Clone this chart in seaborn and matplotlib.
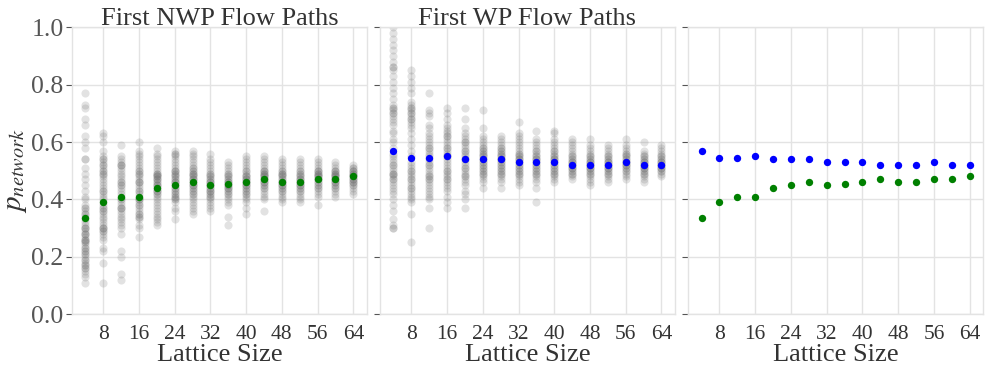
import numpy as np
import pandas as pd
import matplotlib
matplotlib.use("Agg")
import matplotlib.pyplot as plt
import seaborn as sns

# Lattice sizes used in the simulations
lattice_sizes = [4, 8, 12, 16, 20, 24, 28, 32, 36, 40, 44, 48, 52, 56, 60, 64]
x_ticks = [8, 16, 24, 32, 40, 48, 56, 64]
y_ticks = [0.0, 0.2, 0.4, 0.6, 0.8, 1.0]

# Individual runs: p_network at the first non-wetting-phase flow path
nwp_runs = [
    [0.77, 0.73, 0.72, 0.68, 0.66, 0.62, 0.60, 0.58, 0.54, 0.54, 0.51, 0.49, 0.47, 0.45, 0.43, 0.41,
     0.40, 0.38, 0.37, 0.37, 0.36, 0.35, 0.35, 0.34, 0.33, 0.32, 0.31, 0.30, 0.30, 0.29, 0.28, 0.28,
     0.27, 0.26, 0.26, 0.25, 0.24, 0.23, 0.23, 0.22, 0.21, 0.20, 0.19, 0.18, 0.17, 0.16, 0.15, 0.14,
     0.13, 0.11, 0.30, 0.28, 0.26, 0.25, 0.22, 0.21, 0.19, 0.17, 0.16],
    [0.63, 0.62, 0.60, 0.57, 0.55, 0.54, 0.54, 0.53, 0.52, 0.51, 0.50, 0.49, 0.49, 0.48, 0.47, 0.46,
     0.45, 0.44, 0.43, 0.42, 0.41, 0.40, 0.39, 0.38, 0.37, 0.37, 0.36, 0.35, 0.34, 0.33, 0.32, 0.31,
     0.30, 0.30, 0.29, 0.29, 0.28, 0.27, 0.26, 0.23, 0.22, 0.18, 0.11, 0.52, 0.50, 0.43, 0.36, 0.30],
    [0.59, 0.55, 0.54, 0.53, 0.52, 0.52, 0.51, 0.50, 0.49, 0.48, 0.47, 0.46, 0.46, 0.45, 0.44, 0.43,
     0.42, 0.41, 0.40, 0.39, 0.38, 0.37, 0.37, 0.36, 0.35, 0.34, 0.33, 0.32, 0.31, 0.30, 0.28, 0.22,
     0.20, 0.14, 0.12, 0.52, 0.45, 0.40, 0.37],
    [0.60, 0.57, 0.56, 0.55, 0.54, 0.53, 0.52, 0.51, 0.50, 0.50, 0.49, 0.48, 0.47, 0.46, 0.46, 0.45,
     0.44, 0.43, 0.42, 0.41, 0.40, 0.40, 0.39, 0.38, 0.37, 0.36, 0.35, 0.34, 0.34, 0.33, 0.31, 0.30,
     0.27, 0.49, 0.46, 0.43, 0.40, 0.38, 0.35],
    [0.58, 0.56, 0.55, 0.54, 0.53, 0.52, 0.51, 0.50, 0.49, 0.49, 0.48, 0.48, 0.47, 0.47, 0.46, 0.45,
     0.45, 0.44, 0.43, 0.43, 0.42, 0.41, 0.40, 0.39, 0.38, 0.37, 0.36, 0.35, 0.34, 0.33, 0.32, 0.31,
     0.49, 0.48, 0.47, 0.46, 0.45, 0.44, 0.43, 0.42],
    [0.57, 0.56, 0.56, 0.55, 0.54, 0.53, 0.52, 0.51, 0.50, 0.50, 0.49, 0.48, 0.48, 0.47, 0.46, 0.46,
     0.45, 0.44, 0.43, 0.43, 0.42, 0.41, 0.40, 0.40, 0.39, 0.37, 0.36, 0.33, 0.50, 0.49, 0.47, 0.46,
     0.45, 0.44, 0.42, 0.41],
    [0.57, 0.56, 0.55, 0.54, 0.53, 0.52, 0.51, 0.51, 0.50, 0.49, 0.49, 0.48, 0.47, 0.47, 0.46, 0.45,
     0.45, 0.44, 0.43, 0.43, 0.42, 0.41, 0.40, 0.39, 0.38, 0.37, 0.36, 0.35, 0.50, 0.49, 0.48, 0.47,
     0.46, 0.45, 0.44, 0.42],
    [0.56, 0.54, 0.53, 0.52, 0.51, 0.50, 0.49, 0.48, 0.48, 0.47, 0.46, 0.46, 0.45, 0.45, 0.44, 0.43,
     0.43, 0.42, 0.41, 0.40, 0.39, 0.38, 0.37, 0.36, 0.49, 0.47, 0.46, 0.45, 0.44, 0.43, 0.42, 0.41],
    [0.53, 0.52, 0.51, 0.50, 0.49, 0.48, 0.48, 0.47, 0.46, 0.46, 0.45, 0.45, 0.44, 0.44, 0.43, 0.42,
     0.41, 0.40, 0.39, 0.38, 0.34, 0.31, 0.49, 0.47, 0.46, 0.45, 0.44, 0.43, 0.42],
    [0.55, 0.54, 0.53, 0.52, 0.51, 0.50, 0.49, 0.48, 0.48, 0.47, 0.47, 0.46, 0.46, 0.45, 0.45, 0.44,
     0.43, 0.42, 0.41, 0.40, 0.39, 0.37, 0.35, 0.50, 0.48, 0.47, 0.46, 0.45, 0.44, 0.43, 0.42],
    [0.55, 0.54, 0.53, 0.52, 0.51, 0.50, 0.50, 0.49, 0.49, 0.48, 0.48, 0.47, 0.47, 0.46, 0.46, 0.45,
     0.44, 0.43, 0.42, 0.41, 0.40, 0.36, 0.50, 0.49, 0.48, 0.47, 0.46, 0.45, 0.44],
    [0.54, 0.53, 0.52, 0.51, 0.50, 0.49, 0.49, 0.48, 0.48, 0.47, 0.46, 0.46, 0.45, 0.45, 0.44, 0.43,
     0.42, 0.41, 0.40, 0.39, 0.50, 0.49, 0.47, 0.46, 0.45, 0.44, 0.43],
    [0.54, 0.53, 0.52, 0.51, 0.50, 0.49, 0.49, 0.48, 0.47, 0.47, 0.46, 0.46, 0.45, 0.45, 0.44, 0.43,
     0.42, 0.41, 0.40, 0.39, 0.50, 0.48, 0.47, 0.46, 0.45, 0.44, 0.43],
    [0.54, 0.53, 0.52, 0.51, 0.50, 0.50, 0.49, 0.49, 0.48, 0.48, 0.47, 0.47, 0.46, 0.45, 0.44, 0.43,
     0.42, 0.41, 0.38, 0.50, 0.49, 0.48, 0.47, 0.46, 0.45, 0.44],
    [0.53, 0.52, 0.51, 0.50, 0.50, 0.49, 0.49, 0.48, 0.48, 0.47, 0.47, 0.46, 0.46, 0.45, 0.44, 0.43,
     0.42, 0.41, 0.50, 0.49, 0.48, 0.47, 0.46, 0.45, 0.44],
    [0.52, 0.51, 0.51, 0.50, 0.50, 0.49, 0.49, 0.48, 0.48, 0.47, 0.47, 0.46, 0.46, 0.45, 0.44, 0.43,
     0.42, 0.50, 0.49, 0.48, 0.47, 0.46, 0.45],
]

# Individual runs: p_network at the first wetting-phase flow path
wp_runs = [
    [1.00, 0.98, 0.96, 0.94, 0.92, 0.90, 0.88, 0.86, 0.85, 0.83, 0.81, 0.79, 0.77, 0.75, 0.73, 0.72,
     0.71, 0.70, 0.69, 0.68, 0.67, 0.66, 0.64, 0.63, 0.61, 0.60, 0.58, 0.56, 0.55, 0.54, 0.53, 0.52,
     0.51, 0.50, 0.49, 0.49, 0.48, 0.47, 0.46, 0.45, 0.44, 0.43, 0.42, 0.40, 0.38, 0.36, 0.33, 0.31,
     0.30, 0.86, 0.72, 0.70, 0.52, 0.49, 0.47, 0.30],
    [0.85, 0.83, 0.81, 0.79, 0.77, 0.74, 0.73, 0.72, 0.71, 0.70, 0.69, 0.68, 0.67, 0.66, 0.65, 0.63,
     0.61, 0.59, 0.57, 0.55, 0.53, 0.52, 0.51, 0.50, 0.49, 0.48, 0.47, 0.46, 0.45, 0.44, 0.43, 0.42,
     0.41, 0.40, 0.39, 0.35, 0.25, 0.72, 0.70, 0.68, 0.50, 0.47, 0.44],
    [0.77, 0.71, 0.70, 0.69, 0.66, 0.65, 0.63, 0.62, 0.61, 0.60, 0.59, 0.58, 0.57, 0.56, 0.55, 0.54,
     0.53, 0.52, 0.51, 0.50, 0.49, 0.48, 0.47, 0.46, 0.45, 0.44, 0.43, 0.42, 0.41, 0.40, 0.37, 0.30,
     0.58, 0.52, 0.48, 0.47],
    [0.72, 0.70, 0.68, 0.66, 0.65, 0.64, 0.63, 0.62, 0.61, 0.60, 0.59, 0.58, 0.57, 0.56, 0.55, 0.54,
     0.53, 0.52, 0.51, 0.50, 0.49, 0.48, 0.47, 0.46, 0.45, 0.44, 0.43, 0.41, 0.39, 0.37, 0.62, 0.58,
     0.55, 0.50, 0.47],
    [0.72, 0.68, 0.65, 0.63, 0.62, 0.61, 0.60, 0.59, 0.58, 0.57, 0.56, 0.55, 0.54, 0.53, 0.52, 0.51,
     0.50, 0.49, 0.48, 0.47, 0.46, 0.45, 0.43, 0.42, 0.40, 0.37, 0.60, 0.57, 0.54, 0.51, 0.48],
    [0.71, 0.65, 0.62, 0.61, 0.60, 0.59, 0.58, 0.57, 0.57, 0.56, 0.55, 0.54, 0.53, 0.53, 0.52, 0.51,
     0.50, 0.49, 0.48, 0.47, 0.46, 0.44, 0.58, 0.56, 0.55, 0.54, 0.52, 0.51, 0.50, 0.49],
    [0.62, 0.61, 0.60, 0.59, 0.58, 0.57, 0.56, 0.56, 0.55, 0.54, 0.54, 0.53, 0.53, 0.52, 0.51, 0.50,
     0.49, 0.48, 0.47, 0.46, 0.44, 0.58, 0.57, 0.55, 0.54, 0.52, 0.51, 0.50, 0.49],
    [0.67, 0.63, 0.62, 0.61, 0.60, 0.59, 0.58, 0.57, 0.56, 0.55, 0.54, 0.54, 0.53, 0.53, 0.52, 0.51,
     0.50, 0.49, 0.48, 0.47, 0.46, 0.45, 0.56, 0.55, 0.54, 0.52, 0.51, 0.50, 0.49],
    [0.64, 0.61, 0.60, 0.59, 0.58, 0.57, 0.56, 0.55, 0.54, 0.54, 0.53, 0.53, 0.52, 0.51, 0.50, 0.49,
     0.48, 0.47, 0.46, 0.44, 0.39, 0.57, 0.55, 0.54, 0.52, 0.51, 0.50, 0.49],
    [0.64, 0.63, 0.61, 0.60, 0.59, 0.58, 0.57, 0.56, 0.55, 0.54, 0.54, 0.53, 0.53, 0.52, 0.51, 0.50,
     0.49, 0.48, 0.47, 0.46, 0.57, 0.55, 0.54, 0.52, 0.51, 0.50, 0.49],
    [0.61, 0.60, 0.59, 0.58, 0.57, 0.56, 0.55, 0.54, 0.53, 0.53, 0.52, 0.52, 0.51, 0.51, 0.50, 0.49,
     0.48, 0.47, 0.55, 0.54, 0.53, 0.52, 0.51, 0.50, 0.49],
    [0.61, 0.59, 0.58, 0.57, 0.56, 0.55, 0.54, 0.53, 0.53, 0.52, 0.52, 0.51, 0.51, 0.50, 0.49, 0.48,
     0.47, 0.46, 0.45, 0.55, 0.54, 0.53, 0.52, 0.51, 0.50, 0.49],
    [0.59, 0.58, 0.57, 0.56, 0.55, 0.54, 0.53, 0.53, 0.52, 0.52, 0.51, 0.51, 0.50, 0.49, 0.48, 0.47,
     0.46, 0.55, 0.54, 0.53, 0.52, 0.51, 0.50, 0.49],
    [0.61, 0.59, 0.58, 0.57, 0.56, 0.55, 0.54, 0.53, 0.53, 0.52, 0.52, 0.51, 0.50, 0.49, 0.48, 0.47,
     0.56, 0.55, 0.54, 0.53, 0.52, 0.51, 0.50],
    [0.60, 0.57, 0.56, 0.55, 0.54, 0.53, 0.53, 0.52, 0.52, 0.51, 0.51, 0.50, 0.49, 0.48, 0.47, 0.46,
     0.55, 0.54, 0.53, 0.52, 0.51, 0.50, 0.49],
    [0.59, 0.58, 0.57, 0.56, 0.55, 0.54, 0.53, 0.53, 0.52, 0.52, 0.51, 0.51, 0.50, 0.49, 0.48, 0.55,
     0.54, 0.53, 0.52, 0.51, 0.50],
]

# Mean p_network per lattice size
nwp_mean = [0.335, 0.39, 0.41, 0.41, 0.44, 0.45, 0.46, 0.45, 0.455, 0.46, 0.47, 0.46, 0.46, 0.47,
            0.47, 0.48]
wp_mean = [0.57, 0.545, 0.545, 0.55, 0.54, 0.54, 0.54, 0.53, 0.53, 0.53, 0.52, 0.52, 0.52, 0.53,
           0.52, 0.52]

titles = ["First NWP Flow Paths", "First WP Flow Paths", ""]
x_label = "Lattice Size"
y_label = r"$p_{network}$"


def runs_frame(runs):
    rows = [(size, v) for size, vals in zip(lattice_sizes, runs) for v in vals]
    return pd.DataFrame(rows, columns=["size", "p"])


nwp_df = runs_frame(nwp_runs)
wp_df = runs_frame(wp_runs)
mean_df = pd.DataFrame({"size": lattice_sizes, "nwp": nwp_mean, "wp": wp_mean})

sns.set_theme(style="whitegrid")
plt.rcParams.update({
    "font.family": ["Liberation Serif", "DejaVu Serif"],
    "mathtext.fontset": "stix",
    "axes.edgecolor": "#e3e3e3",
    "axes.linewidth": 1.0,
    "grid.color": "#e3e3e3",
    "grid.linewidth": 1.0,
    "text.color": "#333333",
    "axes.labelcolor": "#333333",
    "xtick.color": "#333333",
    "ytick.color": "#555555",
    "ytick.left": True,
    "ytick.major.size": 4,
    "ytick.major.width": 0.8,
    "xtick.major.size": 0,
})

fig, axes = plt.subplots(1, 3, figsize=(9.85, 3.74), dpi=100, sharey=True)
fig.subplots_adjust(left=0.073, right=0.998, bottom=0.16, top=0.927, wspace=0.045)

gray_kw = dict(color="#707070", alpha=0.2, s=34, linewidth=0, legend=False)
mean_kw = dict(s=28, linewidth=0, legend=False, zorder=5)

sns.scatterplot(data=nwp_df, x="size", y="p", ax=axes[0], **gray_kw)
sns.scatterplot(data=mean_df, x="size", y="nwp", ax=axes[0], color="#008000", **mean_kw)

sns.scatterplot(data=wp_df, x="size", y="p", ax=axes[1], **gray_kw)
sns.scatterplot(data=mean_df, x="size", y="wp", ax=axes[1], color="#0000ff", **mean_kw)

sns.scatterplot(data=mean_df, x="size", y="wp", ax=axes[2], color="#0000ff", **mean_kw)
sns.scatterplot(data=mean_df, x="size", y="nwp", ax=axes[2], color="#008000", **mean_kw)

for i, ax in enumerate(axes):
    ax.set_xlim(1, 67)
    ax.set_ylim(0, 1.0)
    ax.set_xticks(x_ticks)
    ax.set_yticks(y_ticks)
    ax.tick_params(axis="x", labelsize=15.5, pad=8)
    ax.tick_params(axis="y", labelsize=18.5, pad=2)
    ax.set_xlabel(x_label, fontsize=19, labelpad=0)
    ax.set_title(titles[i], fontsize=19, pad=2)
    if i == 0:
        ax.set_yticklabels([f"{t:.1f}" for t in y_ticks])
        ax.set_ylabel(y_label, fontsize=21, labelpad=2)
    else:
        ax.set_ylabel("")
        ax.tick_params(axis="y", labelleft=False)

fig.savefig("out.png", dpi=100)
